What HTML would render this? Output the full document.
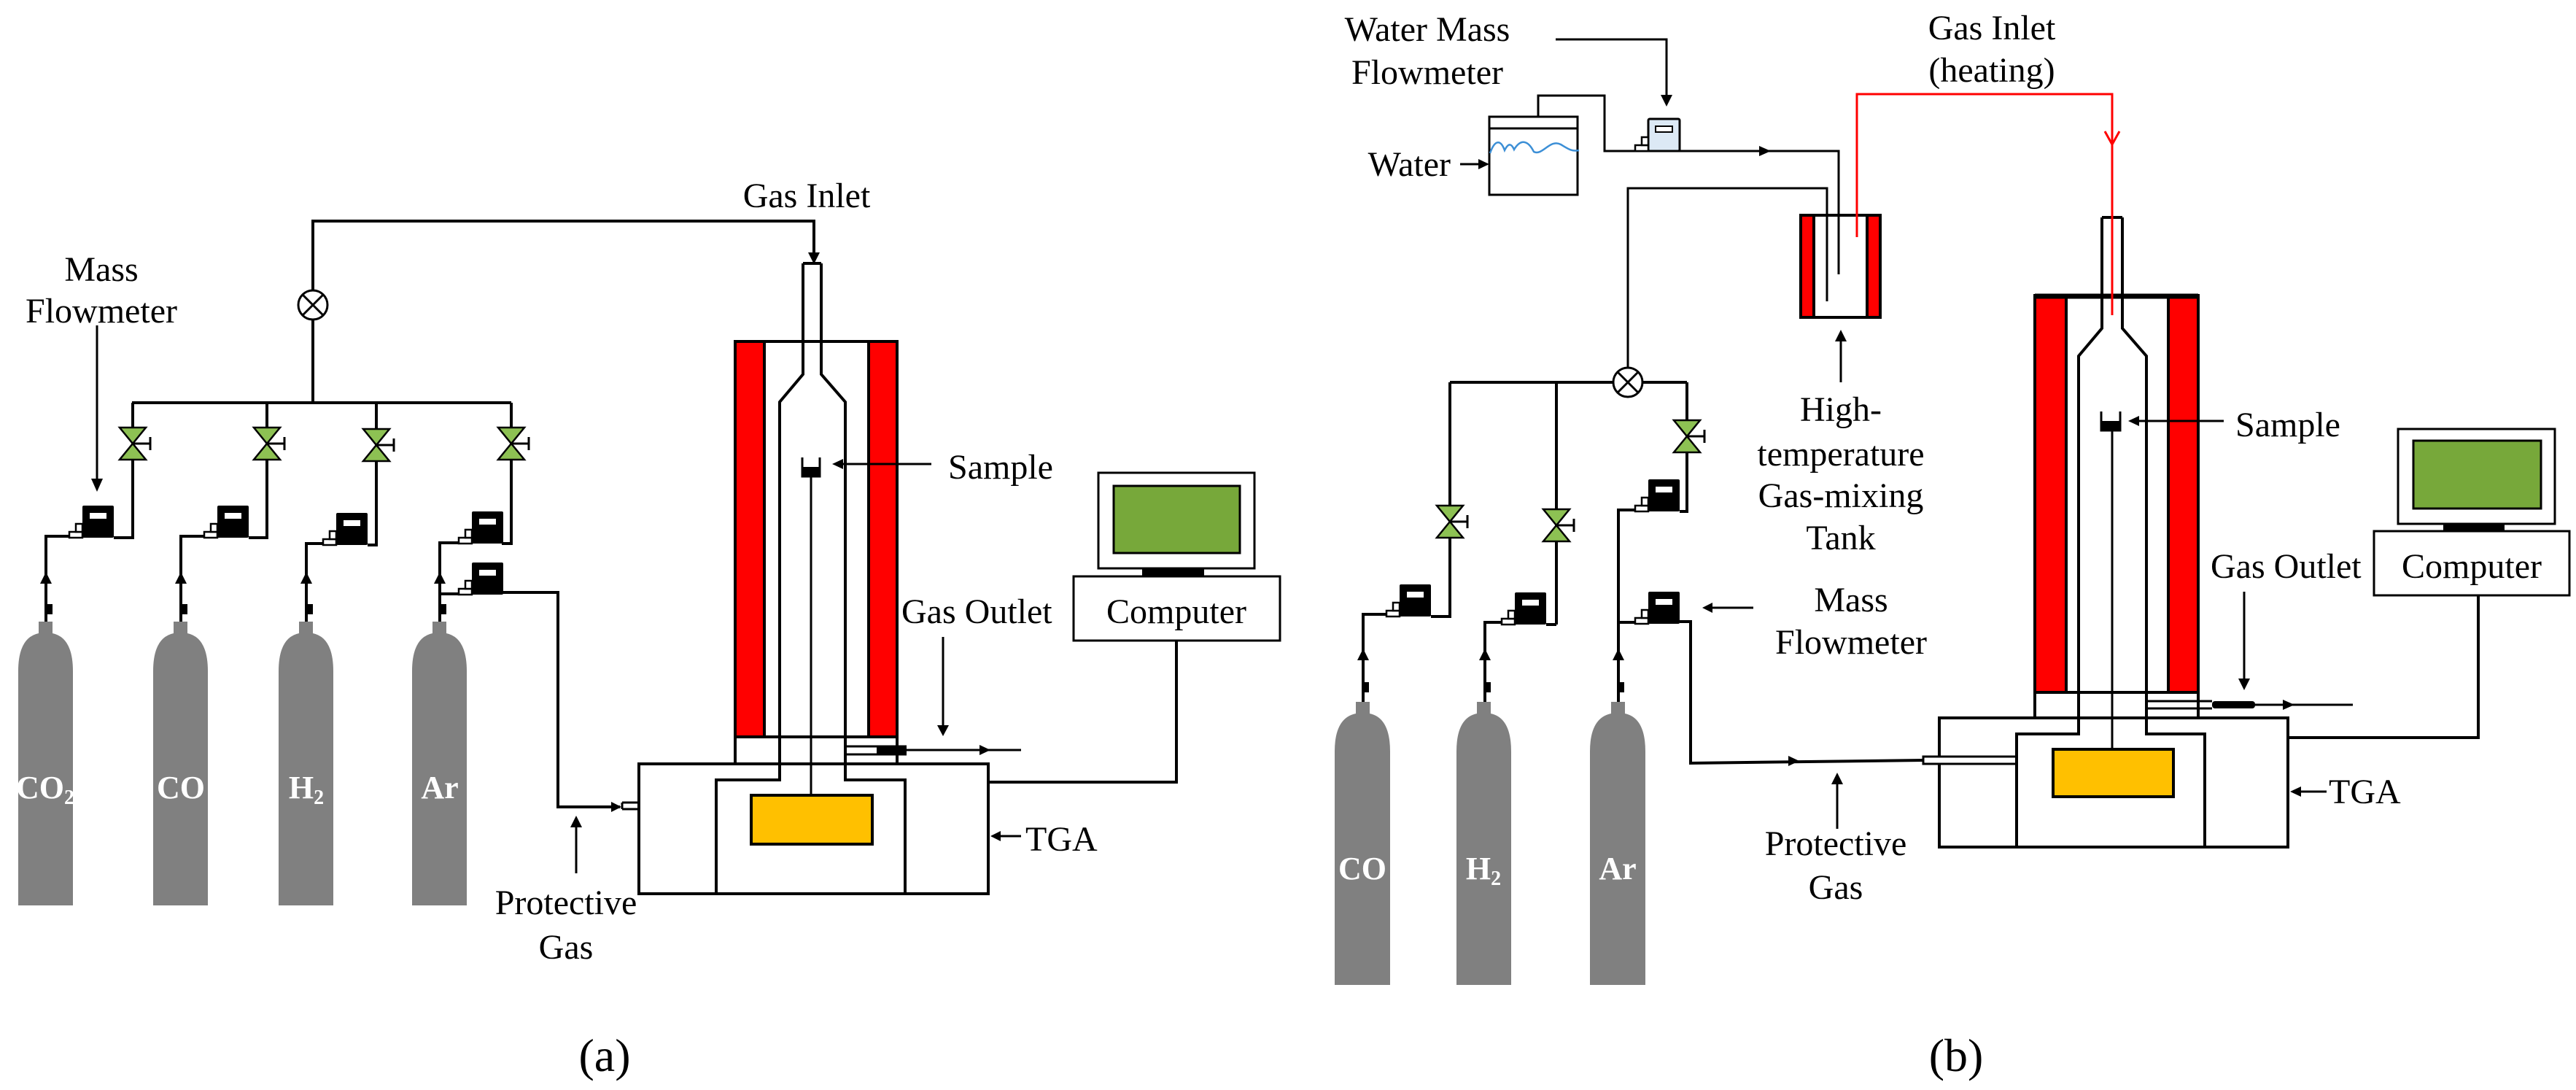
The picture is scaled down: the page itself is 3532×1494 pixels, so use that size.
<!DOCTYPE html>
<html><head><meta charset="utf-8"><style>
html,body{margin:0;padding:0;background:#fff}
svg{display:block}
svg text{font-family:"Liberation Serif","DejaVu Serif",serif;font-size:48px;fill:#000}
svg text.cl{font-family:"Liberation Serif","DejaVu Serif",serif;font-weight:bold;font-size:44px;fill:#fff}
</style></head><body>
<svg width="3532" height="1494" viewBox="0 0 3532 1494" xmlns="http://www.w3.org/2000/svg" font-family="Liberation Serif, DejaVu Serif, serif">
<defs>
<g id="fm">
<rect x="0" y="0" width="43" height="44" fill="#000" rx="2"/>
<rect x="10" y="10" width="23" height="8" fill="#fff"/>
<rect x="-18" y="36" width="18" height="8" fill="#fff" stroke="#000" stroke-width="2.5"/>
<rect x="-9" y="25" width="9" height="11" fill="#fff" stroke="#000" stroke-width="2.5"/>
</g>
<g id="fmw">
<rect x="0" y="0" width="43" height="44" fill="#dce9f5" stroke="#000" stroke-width="3" rx="2"/>
<rect x="10" y="10" width="23" height="8" fill="#fff" stroke="#000" stroke-width="2"/>
<rect x="-18" y="36" width="18" height="8" fill="#fff" stroke="#000" stroke-width="2.5"/>
<rect x="-9" y="25" width="9" height="11" fill="#fff" stroke="#000" stroke-width="2.5"/>
</g>
<g id="vl">
<polygon points="-18,-22 18,-22 0,0" fill="#8dc153" stroke="#000" stroke-width="2.5"/>
<polygon points="-18,22 18,22 0,0" fill="#8dc153" stroke="#000" stroke-width="2.5"/>
<line x1="0" y1="0" x2="24" y2="0" stroke="#000" stroke-width="3"/>
<line x1="24" y1="-9" x2="24" y2="9" stroke="#000" stroke-width="3"/>
</g>
<g id="mx">
<circle cx="0" cy="0" r="20" fill="#fff" stroke="#000" stroke-width="3"/>
<line x1="-14" y1="-14" x2="14" y2="14" stroke="#000" stroke-width="3"/>
<line x1="-14" y1="14" x2="14" y2="-14" stroke="#000" stroke-width="3"/>
</g>
</defs>

<g fill="none" stroke="#000" stroke-width="4">
<polyline points="429,398 429,303 1116,303 1116,350"/>
<line x1="429" y1="438" x2="429" y2="552"/>
<line x1="181" y1="552" x2="701" y2="552"/>
<polyline points="182,552 182,737 156,737"/>
<polyline points="366,552 366,737 341,737"/>
<polyline points="516,552 516,747 504,747"/>
<polyline points="701,552 701,745 688,745"/>
<polyline points="63,852 63,735 95,735"/>
<polyline points="248,852 248,735 280,735"/>
<polyline points="420,852 420,745 443,745"/>
<polyline points="603,852 603,744 629,744"/>
<line x1="603" y1="814" x2="629" y2="814"/>
<polyline points="688,812 765,812 765,1106 850,1106"/>
<line x1="853" y1="1100" x2="982" y2="1100" stroke-width="3"/>
<line x1="853" y1="1109" x2="982" y2="1109" stroke-width="3"/>
<line x1="853" y1="1100" x2="853" y2="1109" stroke-width="3"/>
<line x1="133" y1="446" x2="133" y2="660" stroke-width="3"/>
</g>
<g fill="#000">
<polygon points="1108,346 1124,346 1116,362"/>
<polygon points="125,656 141,656 133,674"/>
<polygon points="55,800 71,800 63,784"/><polygon points="240,800 256,800 248,784"/>
<polygon points="412,800 428,800 420,784"/><polygon points="595,800 611,800 603,784"/>
<rect x="63" y="828" width="9" height="14"/><rect x="248" y="828" width="9" height="14"/>
<rect x="420" y="828" width="9" height="14"/><rect x="603" y="828" width="9" height="14"/>
<polygon points="838,1099 838,1113 852,1106"/>
</g>
<use href="#mx" x="429" y="418"/>
<use href="#vl" x="182" y="608"/><use href="#vl" x="366" y="608"/>
<use href="#vl" x="516" y="610"/><use href="#vl" x="701" y="608"/>
<use href="#fm" x="113" y="693"/><use href="#fm" x="298" y="693"/>
<use href="#fm" x="461" y="703"/><use href="#fm" x="647" y="701"/>
<use href="#fm" x="647" y="771"/>
<g fill="#808080">
<path d="M53,852 H72 V868 Q100,874 100,920 V1241 H25 V920 Q25,874 53,868 Z"/>
<path d="M238,852 H257 V868 Q285,874 285,920 V1241 H210 V920 Q210,874 238,868 Z"/>
<path d="M410,852 H429 V868 Q457,874 457,920 V1241 H382 V920 Q382,874 410,868 Z"/>
<path d="M593,852 H612 V868 Q640,874 640,920 V1241 H565 V920 Q565,874 593,868 Z"/>
</g>
<text class="cl" x="62" y="1094" text-anchor="middle">CO<tspan font-size="28" dy="8">2</tspan></text>
<text class="cl" x="248" y="1094" text-anchor="middle">CO</text>
<text class="cl" x="420" y="1094" text-anchor="middle">H<tspan font-size="28" dy="8">2</tspan></text>
<text class="cl" x="603" y="1094" text-anchor="middle">Ar</text>
<rect x="1008" y="468" width="222" height="542" fill="#fff" stroke="#000" stroke-width="4"/>
<rect x="1008" y="468" width="40" height="542" fill="#ff0000" stroke="#000" stroke-width="4"/>
<rect x="1191" y="468" width="39" height="542" fill="#ff0000" stroke="#000" stroke-width="4"/>
<rect x="1008" y="1010" width="222" height="37" fill="#fff" stroke="#000" stroke-width="4"/>
<rect x="876" y="1047" width="479" height="178" fill="#fff" stroke="#000" stroke-width="4"/>
<g fill="none" stroke="#000" stroke-width="4">
<polyline points="1101,361 1101,513 1069,551 1069,1069 982,1069 982,1225"/>
<polyline points="1126,361 1126,513 1159,551 1159,1069 1241,1069 1241,1225"/>
<line x1="1101" y1="361" x2="1126" y2="361"/>
<line x1="1112" y1="654" x2="1112" y2="1090" stroke-width="3"/>
<polyline points="1100,627 1100,653 1124,653 1124,627" stroke-width="3"/>
<line x1="1277" y1="636" x2="1150" y2="636" stroke-width="3"/>
<line x1="1159" y1="1023" x2="1243" y2="1023" stroke-width="3"/>
<line x1="1159" y1="1034" x2="1243" y2="1034" stroke-width="3"/>
<line x1="1243" y1="1028" x2="1400" y2="1028" stroke-width="3"/>
<line x1="1293" y1="873" x2="1293" y2="995" stroke-width="3"/>
<line x1="790" y1="1197" x2="790" y2="1132" stroke-width="3"/>
<line x1="1400" y1="1146" x2="1368" y2="1146" stroke-width="3"/>
<polyline points="1613,878 1613,1072 1355,1072"/>
</g>
<g fill="#000">
<rect x="1202" y="1023" width="41" height="11"/>
<rect x="1100" y="640" width="24" height="14"/>
<polygon points="1141,636 1156,629 1156,643"/>
<polygon points="1343,1021 1343,1035 1358,1028"/>
<polygon points="1285,994 1301,994 1293,1009"/>
<polygon points="782,1134 798,1134 790,1118"/>
<polygon points="1358,1146 1372,1139 1372,1153"/>
</g>
<rect x="1030" y="1090" width="166" height="67" fill="#ffc000" stroke="#000" stroke-width="4"/>
<rect x="1506" y="648" width="214" height="131" fill="#fff" stroke="#000" stroke-width="3"/>
<rect x="1527" y="666" width="173" height="92" fill="#77a83a" stroke="#000" stroke-width="3"/>
<rect x="1566" y="779" width="85" height="11" fill="#000"/>
<rect x="1472" y="790" width="283" height="88" fill="#fff" stroke="#000" stroke-width="3"/>
<text x="1106" y="284" text-anchor="middle">Gas Inlet</text>
<text x="139" y="385" text-anchor="middle">Mass</text>
<text x="139" y="442" text-anchor="middle">Flowmeter</text>
<text x="1300" y="656">Sample</text>
<text x="1236" y="854">Gas Outlet</text>
<text x="1613" y="854" text-anchor="middle">Computer</text>
<text x="1406" y="1166">TGA</text>
<text x="776" y="1253" text-anchor="middle">Protective</text>
<text x="776" y="1314" text-anchor="middle">Gas</text>
<text x="829" y="1468" text-anchor="middle" style="font-size:64px">(a)</text>

<g fill="none" stroke="#000" stroke-width="4">
<polyline points="2109,160 2109,131 2200,131 2200,207 2521,207 2521,376" stroke-width="3"/>
<polyline points="2232,504 2232,258 2505,258 2505,413" stroke-width="3"/>
<polyline points="2133,54 2285,54 2285,132" stroke-width="3"/>
<line x1="2002" y1="225" x2="2030" y2="225" stroke-width="3"/>
<line x1="2524" y1="524" x2="2524" y2="466" stroke-width="3"/>
<line x1="1988" y1="524" x2="2212" y2="524"/>
<line x1="2252" y1="524" x2="2313" y2="524"/>
<polyline points="1988,524 1988,845 1962,845"/>
<line x1="2134" y1="524" x2="2134" y2="856"/>
<line x1="2134" y1="856" x2="2120" y2="856"/>
<polyline points="2313,524 2313,701 2303,701"/>
<polyline points="1869,962 1869,842 1901,842"/>
<polyline points="2036,962 2036,853 2059,853"/>
<polyline points="2219,962 2219,699 2242,699"/>
<line x1="2219" y1="853" x2="2242" y2="853"/>
<polyline points="2303,852 2318,852 2318,1046 2637,1042"/>
<line x1="2404" y1="833" x2="2345" y2="833" stroke-width="3"/>
<line x1="2519" y1="1136" x2="2519" y2="1072" stroke-width="3"/>
</g>
<g fill="#000">
<polygon points="2277,130 2293,130 2285,146"/>
<polygon points="2027,218 2027,232 2042,225"/>
<polygon points="2412,200 2412,214 2428,207"/>
<polygon points="2497,318 2513,318 2505,302"/>
<polygon points="2516,468 2532,468 2524,452"/>
<polygon points="2334,833 2348,826 2348,840"/>
<polygon points="1861,905 1877,905 1869,889"/><polygon points="2028,905 2044,905 2036,889"/>
<polygon points="2211,905 2227,905 2219,889"/>
<rect x="1869" y="935" width="8" height="14"/><rect x="2036" y="935" width="8" height="14"/>
<rect x="2219" y="935" width="8" height="14"/>
<polygon points="2452,1036 2452,1050 2467,1043"/>
<polygon points="2511,1075 2527,1075 2519,1059"/>
</g>
<rect x="2042" y="160" width="121" height="107" fill="#fff" stroke="#000" stroke-width="3"/>
<line x1="2042" y1="176" x2="2163" y2="176" stroke="#000" stroke-width="3"/>
<path d="M2043,210 C2050,190 2058,192 2063,206 C2068,196 2072,196 2076,205 C2085,190 2095,192 2103,208 C2115,214 2125,190 2140,198 C2150,204 2155,208 2165,206" fill="none" stroke="#3c8fd6" stroke-width="2.5"/>
<use href="#fmw" x="2260" y="163"/>
<rect x="2469" y="295" width="109" height="140" fill="#fff" stroke="#000" stroke-width="4"/>
<rect x="2469" y="295" width="18" height="140" fill="#ff0000" stroke="#000" stroke-width="4"/>
<rect x="2560" y="295" width="18" height="140" fill="#ff0000" stroke="#000" stroke-width="4"/>
<polyline points="2521,207 2521,376" fill="none" stroke="#000" stroke-width="3"/>
<polyline points="2505,258 2505,413" fill="none" stroke="#000" stroke-width="3"/>
<use href="#mx" x="2232" y="524"/>
<use href="#vl" x="1988" y="715"/><use href="#vl" x="2134" y="720"/>
<use href="#vl" x="2313" y="598"/>
<use href="#fm" x="1919" y="801"/><use href="#fm" x="2077" y="812"/>
<use href="#fm" x="2260" y="657"/><use href="#fm" x="2260" y="811"/>
<g fill="#808080">
<path d="M1859,962 H1878 V978 Q1906,984 1906,1030 V1350 H1830 V1030 Q1830,984 1859,978 Z"/>
<path d="M2025,962 H2044 V978 Q2072,984 2072,1030 V1350 H1997 V1030 Q1997,984 2025,978 Z"/>
<path d="M2209,962 H2228 V978 Q2256,984 2256,1030 V1350 H2180 V1030 Q2180,984 2209,978 Z"/>
</g>
<text class="cl" x="1868" y="1205" text-anchor="middle">CO</text>
<text class="cl" x="2034" y="1205" text-anchor="middle">H<tspan font-size="28" dy="8">2</tspan></text>
<text class="cl" x="2218" y="1205" text-anchor="middle">Ar</text>
<rect x="2790" y="405" width="224" height="544" fill="#fff" stroke="#000" stroke-width="4"/>
<rect x="2790" y="405" width="43" height="544" fill="#ff0000" stroke="#000" stroke-width="4"/>
<rect x="2973" y="405" width="41" height="544" fill="#ff0000" stroke="#000" stroke-width="4"/>
<line x1="2790" y1="406" x2="3014" y2="406" stroke="#000" stroke-width="7"/>
<rect x="2790" y="949" width="224" height="35" fill="#fff" stroke="#000" stroke-width="4"/>
<rect x="2659" y="984" width="478" height="177" fill="#fff" stroke="#000" stroke-width="4"/>
<rect x="2637" y="1037" width="128" height="10" fill="#fff" stroke="#000" stroke-width="3"/>
<g fill="none" stroke="#000" stroke-width="4">
<polyline points="2882,298 2882,450 2850,488 2850,1006 2765,1006 2765,1161"/>
<polyline points="2910,298 2910,450 2943,488 2943,1006 3023,1006 3023,1161"/>
<line x1="2882" y1="298" x2="2910" y2="298"/>
<line x1="2896" y1="591" x2="2896" y2="1027" stroke-width="3"/>
<polyline points="2881,564 2881,590 2907,590 2907,564" stroke-width="3"/>
<line x1="3049" y1="577" x2="2928" y2="577" stroke-width="3"/>
<line x1="2943" y1="961" x2="3033" y2="961" stroke-width="3"/>
<line x1="2943" y1="971" x2="3033" y2="971" stroke-width="3"/>
<line x1="3092" y1="966" x2="3226" y2="966" stroke-width="3"/>
<line x1="3077" y1="811" x2="3077" y2="932" stroke-width="3"/>
<line x1="3190" y1="1085" x2="3155" y2="1085" stroke-width="3"/>
<polyline points="3398,816 3398,1011 3137,1011"/>
</g>
<g fill="#000">
<rect x="3033" y="961" width="59" height="10" rx="4"/>
<rect x="2881" y="577" width="26" height="14"/>
<polygon points="2918,577 2933,570 2933,584"/>
<polygon points="3130,959 3130,973 3146,966"/>
<polygon points="3069,930 3085,930 3077,946"/>
<polygon points="3140,1085 3155,1078 3155,1092"/>
</g>
<rect x="2815" y="1027" width="165" height="65" fill="#ffc000" stroke="#000" stroke-width="4"/>
<polyline points="2546,325 2546,129 2896,129 2896,432" fill="none" stroke="#ff0000" stroke-width="3"/>
<polyline points="2886,180 2896,198 2906,180" fill="none" stroke="#ff0000" stroke-width="3"/>
<rect x="3288" y="588" width="215" height="130" fill="#fff" stroke="#000" stroke-width="3"/>
<rect x="3309" y="604" width="175" height="93" fill="#77a83a" stroke="#000" stroke-width="3"/>
<rect x="3350" y="718" width="84" height="9" fill="#000"/>
<rect x="3255" y="728" width="268" height="88" fill="#fff" stroke="#000" stroke-width="3"/>
<text x="1957" y="56" text-anchor="middle">Water Mass</text>
<text x="1957" y="115" text-anchor="middle">Flowmeter</text>
<text x="1989" y="241" text-anchor="end">Water</text>
<text x="2731" y="54" text-anchor="middle">Gas Inlet</text>
<text x="2731" y="112" text-anchor="middle">(heating)</text>
<text x="2524" y="577" text-anchor="middle">High-</text>
<text x="2524" y="638" text-anchor="middle">temperature</text>
<text x="2524" y="695" text-anchor="middle">Gas-mixing</text>
<text x="2524" y="753" text-anchor="middle">Tank</text>
<text x="2538" y="838" text-anchor="middle">Mass</text>
<text x="2538" y="896" text-anchor="middle">Flowmeter</text>
<text x="3065" y="598">Sample</text>
<text x="3031" y="792">Gas Outlet</text>
<text x="3389" y="792" text-anchor="middle">Computer</text>
<text x="3193" y="1101">TGA</text>
<text x="2517" y="1172" text-anchor="middle">Protective</text>
<text x="2517" y="1232" text-anchor="middle">Gas</text>
<text x="2682" y="1468" text-anchor="middle" style="font-size:64px">(b)</text>
</svg>
</body></html>
